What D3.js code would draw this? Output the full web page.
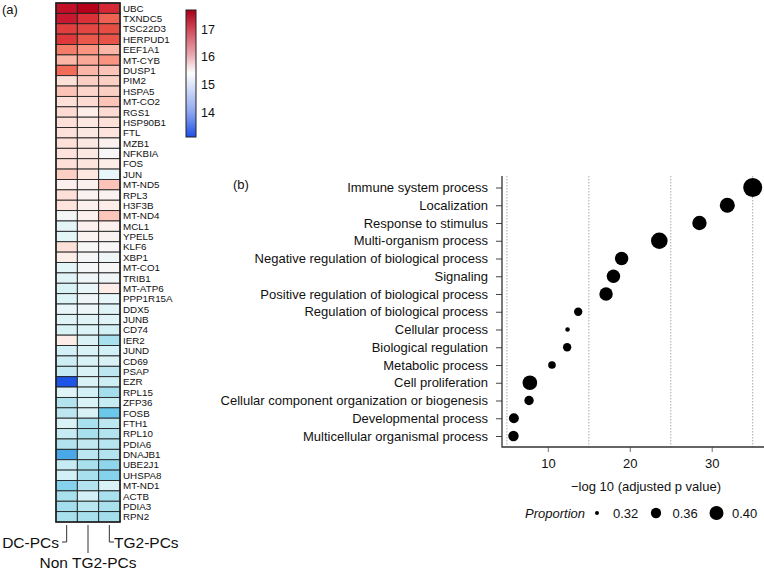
<!DOCTYPE html>
<html lang="en">
<head>
  <meta charset="utf-8">
  <title>Heatmap and GO dot plot</title>
  <script src="https://d3js.org/d3.v7.min.js"></script>
  <style>
    body { margin: 0; background: #fff; }
    svg { display: block; font-family: "Liberation Sans", Arial, sans-serif; }
    text { fill: #111; }
  </style>
</head>
<body>
<script>
// ---- panel (a): heatmap data ----
var groups = ["DC-PCs", "Non TG2-PCs", "TG2-PCs"];
var genes = ["UBC", "TXNDC5", "TSC22D3", "HERPUD1", "EEF1A1", "MT-CYB", "DUSP1", "PIM2",
  "HSPA5", "MT-CO2", "RGS1", "HSP90B1", "FTL", "MZB1", "NFKBIA", "FOS", "JUN", "MT-ND5",
  "RPL3", "H3F3B", "MT-ND4", "MCL1", "YPEL5", "KLF6", "XBP1", "MT-CO1", "TRIB1", "MT-ATP6",
  "PPP1R15A", "DDX5", "JUNB", "CD74", "IER2", "JUND", "CD69", "PSAP", "EZR", "RPL15",
  "ZFP36", "FOSB", "FTH1", "RPL10", "PDIA6", "DNAJB1", "UBE2J1", "UHSPA8", "MT-ND1",
  "ACTB", "PDIA3", "RPN2"];
var dcValues = [17.5, 17.4, 17.0, 17.05, 16.5, 16.1, 16.6, 15.75, 16.0, 15.75, 15.8, 15.75,
  15.72, 15.75, 15.7, 15.75, 15.9, 15.52, 15.75, 15.7, 15.35, 15.15, 15.15, 15.75, 15.55,
  15.15, 15.1, 15.0, 15.05, 15.2, 15.1, 15.0, 15.55, 14.95, 14.9, 14.85, 13.2, 15.1, 14.65,
  14.75, 15.0, 14.85, 14.65, 13.8, 14.85, 14.95, 14.2, 14.55, 14.5, 14.55];
var nonValues = [17.7, 17.1, 16.95, 16.8, 16.35, 16.2, 16.1, 15.9, 15.85, 15.8, 15.55, 15.65,
  15.62, 15.62, 15.62, 15.68, 15.65, 15.52, 15.5, 15.52, 15.52, 15.52, 15.5, 15.42, 15.4,
  15.38, 15.32, 15.2, 15.3, 15.28, 15.1, 15.05, 15.0, 15.0, 15.0, 15.0, 15.0, 14.95, 15.0,
  15.0, 14.55, 14.55, 14.8, 14.75, 14.55, 14.55, 14.65, 14.95, 14.7, 14.55];
var tg2Values = [17.2, 16.7, 16.9, 16.85, 16.1, 16.35, 16.0, 15.9, 15.9, 16.0, 15.8, 15.75,
  15.68, 15.52, 15.45, 15.55, 15.2, 16.0, 15.5, 15.55, 15.98, 15.52, 15.5, 15.45, 15.3,
  15.42, 15.32, 15.55, 15.18, 15.1, 15.1, 14.95, 14.55, 14.95, 15.0, 14.75, 14.9, 14.5,
  14.85, 14.0, 14.75, 14.65, 14.7, 14.65, 14.3, 14.2, 15.0, 14.55, 14.55, 14.5];
var legendTicks = [14, 15, 16, 17];

// ---- panel (b): GO terms ----
var terms = ["Immune system process", "Localization", "Response to stimulus",
  "Multi-organism process", "Negative regulation of biological process", "Signaling",
  "Positive regulation of biological process", "Regulation of biological process",
  "Cellular process", "Biological regulation", "Metabolic process", "Cell proliferation",
  "Cellular component organization or biogenesis", "Developmental process",
  "Multicellular organismal process"];
var logP = [35.0, 31.9, 28.5, 23.6, 19.0, 18.0, 17.1, 13.7, 12.4, 12.35, 10.5, 7.8, 7.7, 5.85, 5.8];
var proportion = [0.473, 0.413, 0.405, 0.435, 0.393, 0.393, 0.393, 0.344, 0.322, 0.344,
  0.339, 0.408, 0.352, 0.357, 0.361];
var xTicks = [10, 20, 30];
var gridValues = [5, 15, 25, 35];
var sizeBreaks = [0.32, 0.36, 0.40];

var svg = d3.select("body").append("svg")
  .attr("width", 764)
  .attr("height", 572);

// ===== heatmap =====
var rows = [];
genes.forEach(function(g, i) {
  rows.push({gene: g, group: groups[0], v: dcValues[i]});
  rows.push({gene: g, group: groups[1], v: nonValues[i]});
  rows.push({gene: g, group: groups[2], v: tg2Values[i]});
});

var hx = d3.scaleBand().domain(groups).range([56, 120]);
var hy = d3.scaleBand().domain(genes).range([3, 522]);

var cellColor = d3.scaleLinear()
  .domain([13.2, 13.8, 14.0, 14.2, 14.5, 14.75, 15.0, 15.2, 15.45, 15.55, 15.75, 16.0,
    16.35, 16.6, 16.9, 17.1, 17.4, 17.7])
  .range(["#1f55e6", "#4aa8e8", "#6cc8ea", "#84d2ec", "#a4deec", "#bce7f1", "#d8f2f6",
    "#e8f6f9", "#f8f6f6", "#fcede9", "#fde0d8", "#fcc4b8", "#f89480", "#f36c5a",
    "#e64e44", "#dc3038", "#c81830", "#b40018"])
  .clamp(true);

svg.append("g").selectAll("rect")
  .data(rows)
  .join("rect")
  .attr("x", function(d) { return hx(d.group); })
  .attr("y", function(d) { return hy(d.gene); })
  .attr("width", hx.bandwidth())
  .attr("height", hy.bandwidth())
  .attr("fill", function(d) { return cellColor(d.v); })
  .attr("stroke", "#222")
  .attr("stroke-width", 0.9);

svg.append("rect")
  .attr("x", 56).attr("y", 3)
  .attr("width", 64).attr("height", 519)
  .attr("fill", "none")
  .attr("stroke", "#222")
  .attr("stroke-width", 1.6);

svg.append("g").selectAll("text")
  .data(genes)
  .join("text")
  .attr("x", 123)
  .attr("y", function(d) { return hy(d) + hy.bandwidth() / 2; })
  .attr("dy", "0.36em")
  .attr("font-size", 9.8)
  .text(function(d) { return d; });

svg.append("text").attr("x", 2).attr("y", 9).attr("dy", "0.36em")
  .attr("font-size", 13).text("(a)");

// group labels with brackets
var cx = function(g) { return hx(g) + hx.bandwidth() / 2; };
var bracket = svg.append("g").attr("stroke", "#333").attr("stroke-width", 1).attr("fill", "none");
bracket.append("path").attr("d", "M" + cx(groups[0]) + ",525V542H62");
bracket.append("path").attr("d", "M" + cx(groups[1]) + ",525V553");
bracket.append("path").attr("d", "M" + cx(groups[2]) + ",525V542H114");
svg.append("text").attr("x", 59).attr("y", 542).attr("dy", "0.36em")
  .attr("text-anchor", "end").attr("font-size", 15.5).text(groups[0]);
svg.append("text").attr("x", cx(groups[1])).attr("y", 562).attr("dy", "0.36em")
  .attr("text-anchor", "middle").attr("font-size", 15.5).text(groups[1]);
svg.append("text").attr("x", 114).attr("y", 542).attr("dy", "0.36em")
  .attr("font-size", 15.5).text(groups[2]);

// colour legend
var ly = d3.scaleLinear().domain([13.14, 17.68]).range([137, 10]);
var legendColor = d3.scaleLinear()
  .domain([13.14, 14, 15, 15.45, 16, 17, 17.68])
  .range(["#1f4fe6", "#8aa4f0", "#dce4f8", "#ffffff", "#eab0b8", "#d04858", "#a80018"]);
var defs = svg.append("defs");
var grad = defs.append("linearGradient").attr("id", "lg")
  .attr("x1", 0).attr("y1", 1).attr("x2", 0).attr("y2", 0);
d3.range(0, 1.0001, 0.05).forEach(function(t) {
  var v = 13.14 + t * (17.68 - 13.14);
  grad.append("stop").attr("offset", t).attr("stop-color", legendColor(v));
});
svg.append("rect")
  .attr("x", 186).attr("y", ly(17.68))
  .attr("width", 10).attr("height", ly(13.14) - ly(17.68))
  .attr("fill", "url(#lg)")
  .attr("stroke", "#222").attr("stroke-width", 1);
svg.append("g").selectAll("text")
  .data(legendTicks)
  .join("text")
  .attr("x", 201)
  .attr("y", function(d) { return ly(d); })
  .attr("dy", "0.36em")
  .attr("font-size", 12.5)
  .text(function(d) { return d; });

// ===== dot plot =====
var dots = terms.map(function(t, i) {
  return {term: t, p: logP[i], prop: proportion[i]};
});
var x = d3.scaleLinear().domain([4.4, 36.5]).range([502, 765]);
var y = d3.scalePoint().domain(terms).range([187.5, 436]);
// circle area proportional to proportion (offset at 0.313)
var area = d3.scaleLinear().domain([0.313, 0.40]).range([0, 49]);
var r = function(p) { return Math.sqrt(Math.max(0, area(p))); };

svg.append("text").attr("x", 233).attr("y", 184).attr("dy", "0.36em")
  .attr("font-size", 13).text("(b)");

svg.append("g").selectAll("line")
  .data(gridValues)
  .join("line")
  .attr("x1", function(d) { return x(d); })
  .attr("x2", function(d) { return x(d); })
  .attr("y1", 176).attr("y2", 447)
  .attr("stroke", "#aaa")
  .attr("stroke-width", 1)
  .attr("stroke-dasharray", "1.5,1.5");

var yAxis = svg.append("g")
  .attr("transform", "translate(502,0)")
  .call(d3.axisLeft(y).tickSize(6).tickPadding(8));
yAxis.select(".domain").remove();
yAxis.selectAll(".tick line").attr("stroke", "#444");
yAxis.selectAll("text").attr("font-size", 13).attr("fill", "#111")
  .attr("font-family", "\"Liberation Sans\", Arial, sans-serif");

var xAxis = svg.append("g")
  .attr("transform", "translate(0,447)")
  .call(d3.axisBottom(x).tickValues(xTicks).tickSize(5).tickPadding(7));
xAxis.select(".domain").remove();
xAxis.selectAll(".tick line").attr("stroke", "#888").attr("stroke-width", 1.2);
xAxis.selectAll("text").attr("font-size", 13).attr("fill", "#111")
  .attr("font-family", "\"Liberation Sans\", Arial, sans-serif");

svg.append("path")
  .attr("d", "M502,176V447H764")
  .attr("fill", "none")
  .attr("stroke", "#333")
  .attr("stroke-width", 1.3);

svg.append("g").selectAll("circle")
  .data(dots)
  .join("circle")
  .attr("cx", function(d) { return x(d.p); })
  .attr("cy", function(d) { return y(d.term); })
  .attr("r", function(d) { return r(d.prop); })
  .attr("fill", "#000");

svg.append("text")
  .attr("x", 646).attr("y", 486).attr("dy", "0.36em")
  .attr("text-anchor", "middle").attr("font-size", 13)
  .text("\u2212log 10 (adjusted p value)");

// size legend
var legY = 513;
svg.append("text").attr("x", 585).attr("y", legY).attr("dy", "0.36em")
  .attr("text-anchor", "end").attr("font-size", 13).attr("font-style", "italic")
  .text("Proportion");
var legX = [597, 656, 716.5];
var leg = svg.append("g").selectAll("g")
  .data(sizeBreaks)
  .join("g")
  .attr("transform", function(d, i) { return "translate(" + legX[i] + "," + legY + ")"; });
leg.append("circle").attr("r", function(d) { return r(d); }).attr("fill", "#000");
leg.append("text")
  .attr("x", function(d, i) { return [16, 16.5, 15.5][i]; })
  .attr("dy", "0.36em")
  .attr("font-size", 13)
  .text(function(d) { return d.toFixed(2); });
</script>
</body>
</html>
